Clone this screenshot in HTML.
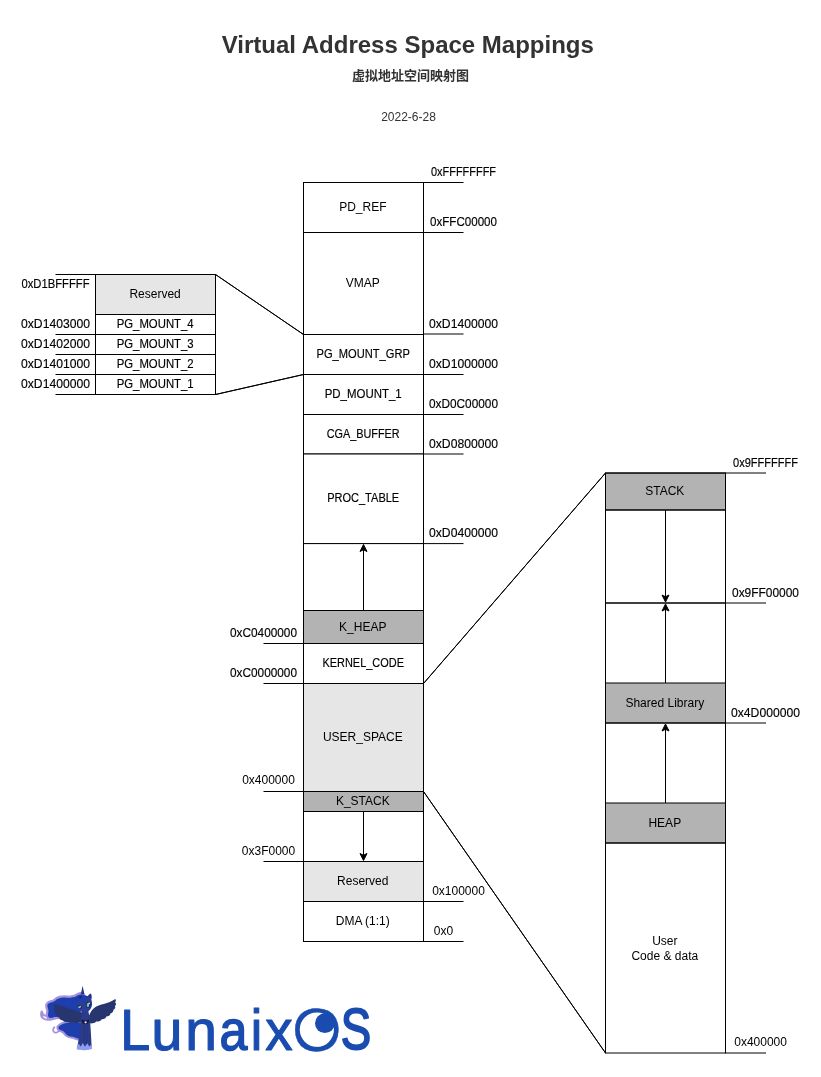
<!DOCTYPE html>
<html lang="en">
<head>
<meta charset="utf-8">
<title>Virtual Address Space Mappings</title>
<style>
html,body{margin:0;padding:0;background:#fff;}
body{width:821px;height:1077px;overflow:hidden;}
svg{display:block;will-change:transform;}
text{font-family:"Liberation Sans",sans-serif;font-size:12px;fill:#000;}
.h{font-size:12px;}
.u{font-size:12px;stroke:#000;stroke-width:0.15px;}
.title{font-size:24px;font-weight:bold;fill:#333;}
.sub{font-family:"Liberation Sans","Noto Sans CJK SC",sans-serif;font-size:13px;font-weight:bold;fill:#333;}
.date{font-size:12px;fill:#333;}
.logo{font-size:59.5px;fill:#1a4cb0;}
</style>
</head>
<body>
<svg width="821" height="1077" viewBox="0 0 821 1077">
<rect x="0" y="0" width="821" height="1077" fill="#fff"/>
<rect x="303.5" y="182.5" width="120.0" height="50.0" fill="#fff" stroke="#000"/>
<rect x="303.5" y="232.5" width="120.0" height="102.0" fill="#fff" stroke="#000"/>
<rect x="303.5" y="334.5" width="120.0" height="40.0" fill="#fff" stroke="#000"/>
<rect x="303.5" y="374.5" width="120.0" height="40.0" fill="#fff" stroke="#000"/>
<rect x="303.5" y="414.5" width="120.0" height="39.5" fill="#fff" stroke="#000"/>
<rect x="303.5" y="454" width="120.0" height="89.6" fill="#fff" stroke="#000"/>
<rect x="303.5" y="543.6" width="120.0" height="66.9" fill="#fff" stroke="#000"/>
<rect x="303.5" y="610.5" width="120.0" height="33.0" fill="#b3b3b3" stroke="#000"/>
<rect x="303.5" y="643.5" width="120.0" height="40.0" fill="#fff" stroke="#000"/>
<rect x="303.5" y="683.5" width="120.0" height="108.0" fill="#e6e6e6" stroke="#000"/>
<rect x="303.5" y="791.5" width="120.0" height="20.0" fill="#b3b3b3" stroke="#000"/>
<rect x="303.5" y="811.5" width="120.0" height="50.0" fill="#fff" stroke="#000"/>
<rect x="303.5" y="861.5" width="120.0" height="40.0" fill="#e6e6e6" stroke="#000"/>
<rect x="303.5" y="901.5" width="120.0" height="40.0" fill="#fff" stroke="#000"/>
<line x1="423.5" y1="182.5" x2="463.5" y2="182.5" stroke="#000" stroke-width="1"/>
<line x1="423.5" y1="232.5" x2="463.5" y2="232.5" stroke="#000" stroke-width="1"/>
<line x1="423.5" y1="334" x2="463.5" y2="334" stroke="#000" stroke-width="1"/>
<line x1="423.5" y1="374.5" x2="463.5" y2="374.5" stroke="#000" stroke-width="1"/>
<line x1="423.5" y1="414.5" x2="463.5" y2="414.5" stroke="#000" stroke-width="1"/>
<line x1="423.5" y1="454" x2="463.5" y2="454" stroke="#000" stroke-width="1"/>
<line x1="423.5" y1="543.6" x2="463.5" y2="543.6" stroke="#000" stroke-width="1"/>
<line x1="423.5" y1="901.5" x2="463.5" y2="901.5" stroke="#000" stroke-width="1"/>
<line x1="423.5" y1="941.5" x2="463.5" y2="941.5" stroke="#000" stroke-width="1"/>
<line x1="263.5" y1="643.5" x2="303.5" y2="643.5" stroke="#000" stroke-width="1"/>
<line x1="263.5" y1="683.5" x2="303.5" y2="683.5" stroke="#000" stroke-width="1"/>
<line x1="263.5" y1="791.5" x2="303.5" y2="791.5" stroke="#000" stroke-width="1"/>
<line x1="263.5" y1="861.5" x2="303.5" y2="861.5" stroke="#000" stroke-width="1"/>
<text x="362.8" y="211" class="h" text-anchor="middle">PD_REF</text>
<text x="362.8" y="287" class="h" text-anchor="middle">VMAP</text>
<text x="363.2" y="358" class="u" text-anchor="middle" textLength="93.3" lengthAdjust="spacingAndGlyphs">PG_MOUNT_GRP</text>
<text x="363.2" y="398" class="u" text-anchor="middle" textLength="77" lengthAdjust="spacingAndGlyphs">PD_MOUNT_1</text>
<text x="363.2" y="438" class="u" text-anchor="middle" textLength="73" lengthAdjust="spacingAndGlyphs">CGA_BUFFER</text>
<text x="363.2" y="502" class="u" text-anchor="middle" textLength="72" lengthAdjust="spacingAndGlyphs">PROC_TABLE</text>
<text x="362.8" y="631" class="h" text-anchor="middle">K_HEAP</text>
<text x="363.2" y="667" class="u" text-anchor="middle" textLength="81.5" lengthAdjust="spacingAndGlyphs">KERNEL_CODE</text>
<text x="362.8" y="741" class="h" text-anchor="middle">USER_SPACE</text>
<text x="362.8" y="805" class="h" text-anchor="middle">K_STACK</text>
<text x="362.8" y="885" class="h" text-anchor="middle">Reserved</text>
<text x="362.8" y="925" class="h" text-anchor="middle">DMA (1:1)</text>
<text x="463.5" y="176" class="u" text-anchor="middle" textLength="65" lengthAdjust="spacingAndGlyphs">0xFFFFFFFF</text>
<text x="463.5" y="226" class="u" text-anchor="middle" textLength="67" lengthAdjust="spacingAndGlyphs">0xFFC00000</text>
<text x="463.5" y="328" class="u" text-anchor="middle" textLength="69" lengthAdjust="spacingAndGlyphs">0xD1400000</text>
<text x="463.5" y="368" class="u" text-anchor="middle" textLength="69" lengthAdjust="spacingAndGlyphs">0xD1000000</text>
<text x="463.5" y="408" class="u" text-anchor="middle" textLength="69" lengthAdjust="spacingAndGlyphs">0xD0C00000</text>
<text x="463.5" y="448" class="u" text-anchor="middle" textLength="69" lengthAdjust="spacingAndGlyphs">0xD0800000</text>
<text x="463.5" y="537" class="u" text-anchor="middle" textLength="69" lengthAdjust="spacingAndGlyphs">0xD0400000</text>
<text x="458.5" y="895" class="h" text-anchor="middle">0x100000</text>
<text x="443.5" y="935" class="h" text-anchor="middle">0x0</text>
<text x="263.5" y="637" class="u" text-anchor="middle" textLength="67" lengthAdjust="spacingAndGlyphs">0xC0400000</text>
<text x="263.5" y="677" class="u" text-anchor="middle" textLength="67" lengthAdjust="spacingAndGlyphs">0xC0000000</text>
<text x="268.5" y="784" class="h" text-anchor="middle">0x400000</text>
<text x="268.5" y="855" class="h" text-anchor="middle">0x3F0000</text>
<line x1="363.5" y1="610.5" x2="363.5" y2="548.5" stroke="#000" stroke-width="1"/>
<path d="M363.5,544.5 L360.0,551.5 L363.5,549.75 L367.0,551.5 Z" fill="#000" stroke="#000" stroke-miterlimit="10"/>
<line x1="363.5" y1="811.5" x2="363.5" y2="856.5" stroke="#000" stroke-width="1"/>
<path d="M363.5,860.5 L360.0,853.5 L363.5,855.25 L367.0,853.5 Z" fill="#000" stroke="#000" stroke-miterlimit="10"/>
<rect x="95.5" y="274.5" width="120.0" height="40.0" fill="#e6e6e6" stroke="#000"/>
<rect x="95.5" y="314.5" width="120.0" height="20.0" fill="#fff" stroke="#000"/>
<rect x="95.5" y="334.5" width="120.0" height="20.0" fill="#fff" stroke="#000"/>
<rect x="95.5" y="354.5" width="120.0" height="20.0" fill="#fff" stroke="#000"/>
<rect x="95.5" y="374.5" width="120.0" height="20.0" fill="#fff" stroke="#000"/>
<line x1="55.5" y1="274.5" x2="95.5" y2="274.5" stroke="#000" stroke-width="1"/>
<line x1="55.5" y1="334.5" x2="95.5" y2="334.5" stroke="#000" stroke-width="1"/>
<line x1="55.5" y1="354.5" x2="95.5" y2="354.5" stroke="#000" stroke-width="1"/>
<line x1="55.5" y1="374.5" x2="95.5" y2="374.5" stroke="#000" stroke-width="1"/>
<line x1="55.5" y1="394.5" x2="95.5" y2="394.5" stroke="#000" stroke-width="1"/>
<text x="155.1" y="298" class="h" text-anchor="middle">Reserved</text>
<text x="155.2" y="328" class="u" text-anchor="middle" textLength="77" lengthAdjust="spacingAndGlyphs">PG_MOUNT_4</text>
<text x="155.2" y="348" class="u" text-anchor="middle" textLength="77" lengthAdjust="spacingAndGlyphs">PG_MOUNT_3</text>
<text x="155.2" y="368" class="u" text-anchor="middle" textLength="77" lengthAdjust="spacingAndGlyphs">PG_MOUNT_2</text>
<text x="155.2" y="388" class="u" text-anchor="middle" textLength="77" lengthAdjust="spacingAndGlyphs">PG_MOUNT_1</text>
<text x="55.5" y="288" class="u" text-anchor="middle" textLength="68" lengthAdjust="spacingAndGlyphs">0xD1BFFFFF</text>
<text x="55.5" y="328" class="u" text-anchor="middle" textLength="69" lengthAdjust="spacingAndGlyphs">0xD1403000</text>
<text x="55.5" y="348" class="u" text-anchor="middle" textLength="69" lengthAdjust="spacingAndGlyphs">0xD1402000</text>
<text x="55.5" y="368" class="u" text-anchor="middle" textLength="69" lengthAdjust="spacingAndGlyphs">0xD1401000</text>
<text x="55.5" y="388" class="u" text-anchor="middle" textLength="69" lengthAdjust="spacingAndGlyphs">0xD1400000</text>
<line x1="215.5" y1="274.5" x2="303.5" y2="334.5" stroke="#000" stroke-width="1"/>
<line x1="215.5" y1="394.5" x2="303.5" y2="374.5" stroke="#000" stroke-width="1"/>
<line x1="215.5" y1="274.5" x2="303.5" y2="334.5" stroke="#000" stroke-width="1"/>
<line x1="215.5" y1="394.5" x2="303.5" y2="374.5" stroke="#000" stroke-width="1"/>
<rect x="605.5" y="473" width="120" height="37" fill="#b3b3b3"/>
<rect x="605.5" y="683" width="120" height="40" fill="#b3b3b3"/>
<rect x="605.5" y="803" width="120" height="40" fill="#b3b3b3"/>
<line x1="605.5" y1="472.5" x2="605.5" y2="1053.5" stroke="#000" stroke-width="1"/>
<line x1="725.5" y1="472.5" x2="725.5" y2="1053.5" stroke="#000" stroke-width="1"/>
<line x1="605.5" y1="473" x2="725.5" y2="473" stroke="#000" stroke-width="1"/>
<line x1="605.5" y1="473" x2="725.5" y2="473" stroke="#000" stroke-width="1"/>
<line x1="725.5" y1="473" x2="766.0" y2="473" stroke="#000" stroke-width="1"/>
<line x1="605.5" y1="510" x2="725.5" y2="510" stroke="#000" stroke-width="1"/>
<line x1="605.5" y1="510" x2="725.5" y2="510" stroke="#000" stroke-width="1"/>
<line x1="605.5" y1="603" x2="725.5" y2="603" stroke="#000" stroke-width="1"/>
<line x1="605.5" y1="603" x2="725.5" y2="603" stroke="#000" stroke-width="1"/>
<line x1="725.5" y1="603" x2="766.0" y2="603" stroke="#000" stroke-width="1"/>
<line x1="605.5" y1="683" x2="725.5" y2="683" stroke="#000" stroke-width="1"/>
<line x1="605.5" y1="723" x2="725.5" y2="723" stroke="#000" stroke-width="1"/>
<line x1="605.5" y1="723" x2="725.5" y2="723" stroke="#000" stroke-width="1"/>
<line x1="725.5" y1="723" x2="766.0" y2="723" stroke="#000" stroke-width="1"/>
<line x1="605.5" y1="803" x2="725.5" y2="803" stroke="#000" stroke-width="1"/>
<line x1="605.5" y1="843" x2="725.5" y2="843" stroke="#000" stroke-width="1"/>
<line x1="605.5" y1="843" x2="725.5" y2="843" stroke="#000" stroke-width="1"/>
<line x1="605.5" y1="1053" x2="725.5" y2="1053" stroke="#000" stroke-width="1"/>
<line x1="725.5" y1="1053" x2="766.0" y2="1053" stroke="#000" stroke-width="1"/>
<text x="664.8" y="495" class="h" text-anchor="middle">STACK</text>
<text x="664.8" y="707" class="h" text-anchor="middle">Shared Library</text>
<text x="664.8" y="827" class="h" text-anchor="middle">HEAP</text>
<text x="664.8" y="945" class="h" text-anchor="middle">User</text>
<text x="664.8" y="960" class="h" text-anchor="middle">Code &amp; data</text>
<text x="765.5" y="467" class="u" text-anchor="middle" textLength="65" lengthAdjust="spacingAndGlyphs">0x9FFFFFFF</text>
<text x="765.5" y="597" class="u" text-anchor="middle" textLength="67" lengthAdjust="spacingAndGlyphs">0x9FF00000</text>
<text x="765.5" y="717" class="u" text-anchor="middle" textLength="69" lengthAdjust="spacingAndGlyphs">0x4D000000</text>
<text x="760.6" y="1046" class="h" text-anchor="middle">0x400000</text>
<line x1="665.5" y1="510" x2="665.5" y2="598" stroke="#000" stroke-width="1"/>
<path d="M665.5,602 L662.0,595 L665.5,596.75 L669.0,595 Z" fill="#000" stroke="#000" stroke-miterlimit="10"/>
<line x1="665.5" y1="683" x2="665.5" y2="608" stroke="#000" stroke-width="1"/>
<path d="M665.5,604 L662.0,611 L665.5,609.25 L669.0,611 Z" fill="#000" stroke="#000" stroke-miterlimit="10"/>
<line x1="665.5" y1="803" x2="665.5" y2="728" stroke="#000" stroke-width="1"/>
<path d="M665.5,724 L662.0,731 L665.5,729.25 L669.0,731 Z" fill="#000" stroke="#000" stroke-miterlimit="10"/>
<line x1="423.5" y1="683.5" x2="605.5" y2="473" stroke="#000" stroke-width="1"/>
<line x1="423.5" y1="791.5" x2="605.5" y2="1053" stroke="#000" stroke-width="1"/>
<line x1="423.5" y1="683.5" x2="605.5" y2="473" stroke="#000" stroke-width="1"/>
<line x1="423.5" y1="791.5" x2="605.5" y2="1053" stroke="#000" stroke-width="1"/>
<text x="407.8" y="53" class="title" text-anchor="middle">Virtual Address Space Mappings</text>
<text x="410.5" y="80" class="sub" text-anchor="middle">虚拟地址空间映射图</text>
<text x="408.5" y="121" class="date" text-anchor="middle">2022-6-28</text>
<g id="logo">
<title>LunaixOS</title>
<g id="pony" transform="translate(36,982) scale(0.10231)" stroke-linejoin="round" stroke-linecap="round">
<!-- mane curl -->
<path d="M185,358 C145,372 105,372 78,360 C55,348 44,322 56,288 C60,305 72,326 92,330 C105,332 112,325 114,315" fill="none" stroke="#a392e0" stroke-width="20"/>
<!-- mane -->
<path d="M455,125 C440,116 415,124 400,134 C385,146 370,150 357,150 C340,154 328,156 314,155 C300,155 285,150 271,152 C255,153 240,154 229,158 C220,161 208,166 200,172 C190,182 178,192 165,195 C152,198 140,200 130,205 C120,210 113,217 112,225 C110,245 120,262 122,280 C123,295 116,308 117,322 C118,334 122,344 129,350 C145,354 165,350 179,343 L430,335 Z" fill="#1f3eae" stroke="#a392e0" stroke-width="44" paint-order="stroke"/>
<!-- tail curl -->
<path d="M230,470 C215,495 190,502 175,488 C162,474 166,452 180,442" fill="none" stroke="#a392e0" stroke-width="17"/>
<!-- tail -->
<path d="M440,400 C400,388 340,392 300,400 C265,405 235,418 220,440 C215,455 225,468 245,472 C265,476 280,490 292,508 C305,525 330,532 360,536 C385,542 400,558 425,552 C438,520 445,460 440,400 Z" fill="#1f3eae" stroke="#a392e0" stroke-width="40" paint-order="stroke"/>
<!-- left wing -->
<path d="M450,300 C400,285 350,268 300,252 C255,238 215,224 178,216 C168,222 172,238 184,250 C170,258 172,276 186,286 C176,298 186,314 204,320 C198,334 212,348 230,350 C228,364 246,376 264,376 C268,388 292,394 312,392 C320,402 346,402 366,396 C384,404 412,402 432,394 C450,386 458,350 450,300 Z" fill="#27366f"/>
<!-- right wing -->
<path d="M518,330 C528,300 548,268 585,242 C620,222 660,216 700,202 C730,192 755,178 774,165 C784,173 782,190 772,200 C787,206 784,226 770,236 C782,246 772,266 754,274 C762,288 747,303 727,308 C730,323 707,338 687,338 C687,353 662,366 642,364 C637,379 607,389 587,386 C577,402 547,406 528,404 C513,382 510,356 518,330 Z" fill="#27366f"/>
<!-- body + legs -->
<path d="M450,280 C448,320 436,360 434,400 C428,470 418,560 404,632 L544,632 C540,560 536,470 530,400 C530,360 516,320 512,280 Z" fill="#2a3b8a"/>
<path d="M468,430 L472,600 M500,430 L496,600" stroke="#222f70" stroke-width="5" fill="none"/>
<!-- hooves -->
<path d="M398,640 L418,600 L436,632 L458,596 L478,632 L502,598 L522,632 L542,606 L548,650 C538,670 410,672 398,655 Z" fill="#8d9cf0"/>
<!-- horn -->
<path d="M456,36 C450,65 442,95 438,122 L474,122 C468,95 462,65 456,36 Z" fill="#28357a"/>
<!-- ear -->
<path d="M500,155 C506,132 520,116 536,112 C548,130 548,158 536,180 Z" fill="#26347c"/>
<!-- head -->
<path d="M410,200 C412,160 440,132 480,132 C525,134 550,170 548,215 C546,255 525,285 490,292 C455,296 420,285 408,255 C402,238 406,218 410,200 Z" fill="#2c3e95"/>
<!-- forelock -->
<path d="M418,150 C440,120 480,122 505,150 C490,165 480,190 470,215 C455,188 435,178 412,192 C404,172 408,160 418,150 Z" fill="#1f3eae"/>
<circle cx="432" cy="148" r="9" fill="#151a3a"/>
<!-- eyes -->
<ellipse cx="428" cy="243" rx="21" ry="18" fill="#1a2350"/>
<ellipse cx="424" cy="246" rx="12" ry="10" fill="#5fd0c8"/>
<ellipse cx="512" cy="222" rx="22" ry="30" fill="#1a2350"/>
<ellipse cx="508" cy="226" rx="12" ry="20" fill="#5fd0c8"/>
<circle cx="520" cy="208" r="8" fill="#ffffff"/>
<circle cx="432" cy="238" r="6" fill="#ffffff"/>
<!-- necklace -->
<path d="M446,366 C470,380 495,380 520,366 C522,395 506,414 483,414 C461,414 444,395 446,366 Z" fill="#14183a"/>
<circle cx="485" cy="394" r="11" fill="#e8ecff"/>
</g>

<text y="1049.6" class="logo" text-anchor="start" style="font-size:57.8px" stroke="#1a4cb0" stroke-width="1.2" stroke-linejoin="round"><tspan x="120.14" textLength="30.00" lengthAdjust="spacingAndGlyphs">L</tspan><tspan x="151.48" textLength="30.83" lengthAdjust="spacingAndGlyphs">u</tspan><tspan x="185.31" textLength="31.70" lengthAdjust="spacingAndGlyphs">n</tspan><tspan x="219.42" textLength="27.93" lengthAdjust="spacingAndGlyphs" font-size="57.6" stroke-width="1.5" dy="-0.1">a</tspan><tspan x="250.69" textLength="11.45" lengthAdjust="spacingAndGlyphs" dy="0.1">i</tspan><tspan x="265.25" textLength="27.37" lengthAdjust="spacingAndGlyphs">x</tspan><tspan x="292.24" textLength="49.15" lengthAdjust="spacingAndGlyphs" font-size="60.6" stroke-width="0.45" dy="0.95">O</tspan><tspan x="340.75" textLength="30.43" lengthAdjust="spacingAndGlyphs" font-size="57.2" stroke-width="1.8" dy="-1.25">S</tspan></text>
<circle cx="316.85" cy="1029.6" r="15.7" fill="none" stroke="#fff" stroke-width="2.8"/>
<circle cx="324.9" cy="1023.2" r="9.9" fill="#1a4cb0"/>
</g>

</svg>
</body>
</html>
